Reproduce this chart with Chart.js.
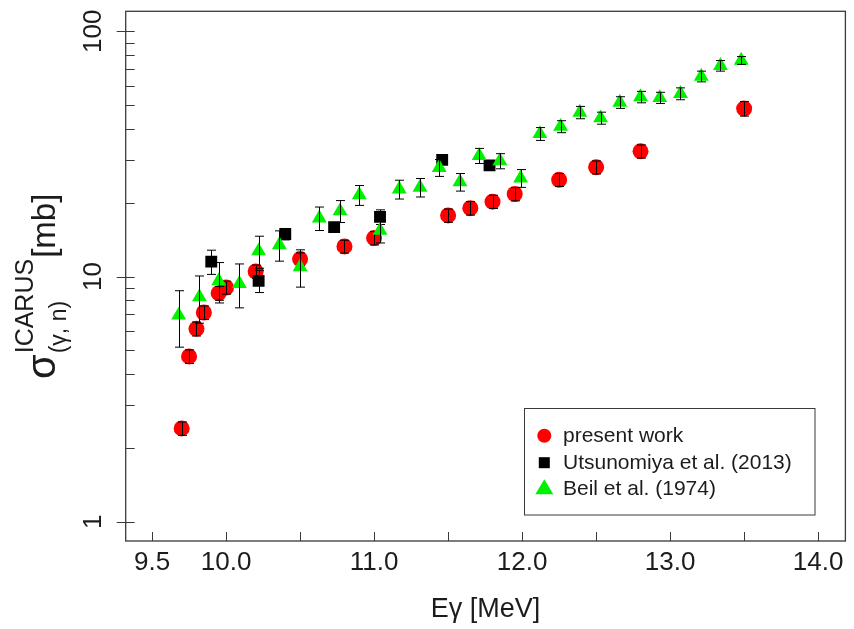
<!DOCTYPE html>
<html>
<head>
<meta charset="utf-8">
<script src="https://cdn.jsdelivr.net/npm/chart.js@4.4.1/dist/chart.umd.min.js"></script>
<style>
  body { margin: 0; background: #fff; }
</style>
</head>
<body>
<canvas id="xsChart" width="854" height="629"></canvas>
<script>
// present work
var energyRed = [9.70, 9.75, 9.80, 9.85, 9.95, 10.00, 10.20, 10.50, 10.80, 11.00, 11.50, 11.65, 11.80, 11.95, 12.25, 12.50, 12.80, 13.50];
var sigmaRed  = [2.40, 4.72, 6.12, 7.13, 8.55, 9.02, 10.48, 11.78, 13.26, 14.35, 17.74, 19.0, 20.2, 21.7, 24.8, 27.9, 32.4, 48.4];
var errRed    = [0.15, 0.30, 0.40, 0.45, 0.55, 0.55, 0.65, 0.70, 0.80, 0.90, 1.10, 1.20, 1.25, 1.35, 1.50, 1.70, 2.00, 3.30];

// Utsunomiya et al. (2013)
var energyBlack = [9.90, 10.22, 10.40, 10.73, 11.04, 11.46, 11.78];
var sigmaBlack  = [11.5, 9.6, 14.9, 15.9, 17.5, 29.9, 28.4];
var errBlack    = [1.3, 1.0, 0.8, 0.6, 1.2, 0.9, 0.9];

// Beil et al. (1974)
var energyGreen = [9.68, 9.82, 9.95, 10.09, 10.22, 10.36, 10.50, 10.63, 10.77, 10.90, 11.04, 11.17, 11.31, 11.44, 11.58, 11.71, 11.85, 11.99,
                   12.12, 12.26, 12.39, 12.53, 12.66, 12.80, 12.93, 13.07, 13.21, 13.34, 13.48];
var sigmaGreen  = [6.95, 8.25, 9.6, 9.35, 12.7, 13.45, 10.95, 17.3, 18.5, 21.5, 15.4, 22.7, 23.1, 27.8, 24.3, 31.1, 29.6, 25.2,
                   38.2, 40.9, 46.7, 44.3, 51.3, 54.0, 53.6, 55.7, 65.5, 72.4, 76.1];
var errGreen    = [1.8, 1.8, 1.8, 1.9, 1.9, 1.9, 1.9, 1.9, 1.9, 2.0, 1.7, 2.0, 2.0, 2.2, 2.0, 2.2, 2.1, 2.1,
                   2.3, 2.3, 2.7, 2.5, 2.8, 2.9, 2.8, 3.1, 3.3, 3.6, 2.8];

var xTickValues = [9.5, 10.0, 10.5, 11.0, 11.5, 12.0, 12.5, 13.0, 13.5, 14.0];
var xTickLabels = ['9.5', '10.0', '', '11.0', '', '12.0', '', '13.0', '', '14.0'];
var yTickValues = [1, 2, 3, 4, 5, 6, 7, 8, 9, 10, 20, 30, 40, 50, 60, 70, 80, 90, 100];
var yMajorValues = [1, 10, 100];

var legendNames = ['present work', 'Utsunomiya et al. (2013)', 'Beil et al. (1974)'];

var textColor = '#1c1c1c';
var axisColor = '#3a3a3a';
var fontName = '"Liberation Sans", Arial, sans-serif';

function toPoints(xs, ys) {
  return xs.map(function (x, i) { return { x: x, y: ys[i] }; });
}

// error bars, drawn right after each dataset
var errorBarPlugin = {
  id: 'errorBars',
  afterDatasetDraw: function (chart, args) {
    var ds = chart.data.datasets[args.index];
    if (!ds.errors) return;
    var ctx = chart.ctx, yScale = chart.scales.y;
    ctx.save();
    ctx.strokeStyle = '#000';
    ctx.lineWidth = 1;
    args.meta.data.forEach(function (pt, i) {
      var v = ds.data[i].y, e = ds.errors[i];
      var top = yScale.getPixelForValue(v + e);
      var bot = yScale.getPixelForValue(v - e);
      var x = Math.round(pt.x) + 0.5;
      ctx.beginPath();
      ctx.moveTo(x, top); ctx.lineTo(x, bot);
      ctx.moveTo(x - 4.5, top); ctx.lineTo(x + 4.5, top);
      ctx.moveTo(x - 4.5, bot); ctx.lineTo(x + 4.5, bot);
      ctx.stroke();
    });
    ctx.restore();
  }
};

// box, inward tick marks, y title and legend
var framePlugin = {
  id: 'frame',
  afterDraw: function (chart) {
    var ctx = chart.ctx, a = chart.chartArea;
    var xs = chart.scales.x, ys = chart.scales.y;
    ctx.save();
    ctx.strokeStyle = axisColor;
    ctx.lineWidth = 1.3;
    ctx.strokeRect(a.left, a.top, a.right - a.left, a.bottom - a.top);

    ctx.lineWidth = 1;
    ctx.beginPath();
    xTickValues.forEach(function (v) {
      var px = Math.round(xs.getPixelForValue(v)) + 0.5;
      ctx.moveTo(px, a.bottom); ctx.lineTo(px, a.bottom - 9);
    });
    yTickValues.forEach(function (v) {
      var py = Math.round(ys.getPixelForValue(v)) + 0.5;
      var start = yMajorValues.indexOf(v) >= 0 ? a.left - 9 : a.left;
      ctx.moveTo(start, py); ctx.lineTo(a.left + 9, py);
    });
    ctx.stroke();

    // y axis title: sigma^ICARUS_(gamma, n) [mb]
    ctx.fillStyle = textColor;
    ctx.translate(55, 379);
    ctx.rotate(-Math.PI / 2);
    ctx.textBaseline = 'alphabetic';
    ctx.textAlign = 'left';
    ctx.font = '40px ' + fontName;
    ctx.fillText('σ', 0, 0);
    var sw = ctx.measureText('σ').width + 1;
    ctx.font = '25px ' + fontName;
    ctx.fillText('ICARUS', sw, -22);
    var supW = ctx.measureText('ICARUS').width;
    ctx.font = '23px ' + fontName;
    ctx.fillText('(γ, n)', sw, 11);
    var subW = ctx.measureText('(γ, n)').width;
    ctx.font = '33px ' + fontName;
    ctx.fillText('[mb]', sw + Math.max(supW, subW) + 1, 0);
    ctx.restore();

    // legend
    ctx.save();
    var bx = 524.5, by = 408.5, bw = 290.5, bh = 106.5;
    ctx.fillStyle = '#fff';
    ctx.fillRect(bx, by, bw, bh);
    ctx.strokeStyle = axisColor;
    ctx.lineWidth = 1;
    ctx.strokeRect(bx, by, bw, bh);
    var rows = [435.7, 462.7, 488.3];
    var mx = 544.3;
    ctx.fillStyle = '#ff0000';
    ctx.beginPath(); ctx.arc(mx, rows[0], 7, 0, Math.PI * 2); ctx.fill();
    ctx.fillStyle = '#000';
    ctx.fillRect(mx - 5.5, rows[1] - 5.5, 11, 11);
    ctx.fillStyle = '#00f000';
    ctx.beginPath();
    ctx.moveTo(mx, rows[2] - 9);
    ctx.lineTo(mx + 9, rows[2] + 6);
    ctx.lineTo(mx - 9, rows[2] + 6);
    ctx.closePath(); ctx.fill();
    ctx.fillStyle = textColor;
    ctx.font = '21px ' + fontName;
    ctx.textBaseline = 'middle';
    legendNames.forEach(function (name, i) {
      ctx.fillText(name, 563, rows[i] + 1);
    });
    ctx.restore();
  }
};

var ctx = document.getElementById('xsChart').getContext('2d');
var chart = new Chart(ctx, {
  type: 'scatter',
  data: {
    datasets: [{
      label: legendNames[0],
      data: toPoints(energyRed, sigmaRed),
      errors: errRed,
      pointStyle: 'circle',
      pointRadius: 8,
      pointHoverRadius: 8,
      backgroundColor: '#ff0000',
      borderWidth: 0,
      order: 3
    }, {
      label: legendNames[1],
      data: toPoints(energyBlack, sigmaBlack),
      errors: errBlack,
      pointStyle: 'rect',
      pointRadius: 8.4,
      pointHoverRadius: 8.4,
      backgroundColor: '#000000',
      borderWidth: 0,
      order: 2
    }, {
      label: legendNames[2],
      data: toPoints(energyGreen, sigmaGreen),
      errors: errGreen,
      pointStyle: 'triangle',
      pointRadius: 8.6,
      pointHoverRadius: 8.6,
      backgroundColor: '#00f000',
      borderWidth: 0,
      order: 1
    }]
  },
  options: {
    responsive: false,
    animation: false,
    devicePixelRatio: 1,
    layout: { padding: { left: 0, top: 11.3, right: 3.3, bottom: 0 } },
    plugins: {
      legend: { display: false },
      tooltip: { enabled: false }
    },
    scales: {
      x: {
        type: 'linear',
        min: 9.322,
        max: 14.184,
        border: { display: false },
        grid: { display: false, drawTicks: false },
        afterBuildTicks: function (scale) {
          scale.ticks = xTickValues.map(function (v) { return { value: v }; });
        },
        afterFit: function (scale) {
          scale.height = 88;
          scale.paddingLeft = 0; scale.paddingRight = 0;
        },
        ticks: {
          autoSkip: false,
          maxRotation: 0,
          padding: 6,
          color: textColor,
          font: { family: fontName, size: 26 },
          callback: function (value, index) { return xTickLabels[index]; }
        },
        title: {
          display: true,
          text: 'Eγ [MeV]',
          color: textColor,
          font: { family: fontName, size: 27 },
          padding: { top: 0, bottom: 3 }
        }
      },
      y: {
        type: 'logarithmic',
        min: 0.834,
        max: 120.7,
        border: { display: false },
        grid: { display: false, drawTicks: false },
        afterBuildTicks: function (scale) {
          scale.ticks = yTickValues.map(function (v) { return { value: v }; });
        },
        afterFit: function (scale) {
          scale.width = 125.7;
          scale.paddingTop = 0; scale.paddingBottom = 0;
        },
        ticks: {
          autoSkip: false,
          minRotation: 90,
          maxRotation: 90,
          crossAlign: 'center',
          padding: 10,
          color: textColor,
          font: { family: fontName, size: 26 },
          callback: function (value) {
            return yMajorValues.indexOf(value) >= 0 ? String(value) : '';
          }
        }
      }
    }
  },
  plugins: [errorBarPlugin, framePlugin]
});
</script>
</body>
</html>
